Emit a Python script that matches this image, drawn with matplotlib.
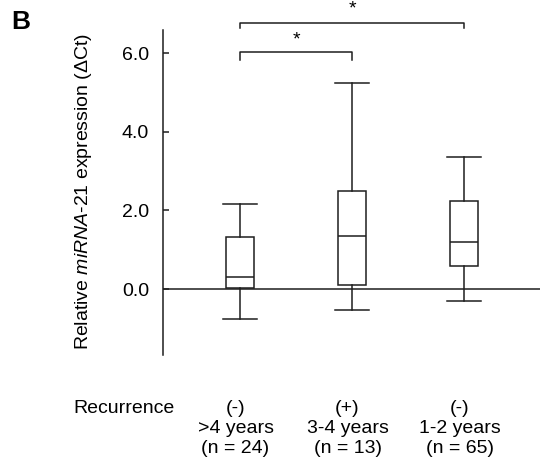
import numpy as np
import matplotlib
matplotlib.use("Agg")
from matplotlib import pyplot as plt
from matplotlib import transforms

plt.rcParams['font.family'] = ['Liberation Sans', 'DejaVu Sans']
plt.rcParams['mathtext.fontset'] = 'custom'
plt.rcParams['mathtext.rm'] = 'Liberation Sans'
plt.rcParams['mathtext.it'] = 'Liberation Sans:italic'

# valores (boxplot: whisker baixo, Q1, mediana, Q3, whisker alto)
grupos = ["(-)", "(+)", "(-)"]
anos = [">4 years", "3-4 years", "1-2 years"]
ns = ["(n = 24)", "(n = 13)", "(n = 65)"]
whislo = [-0.77, -0.54, -0.31]
q1 = [0.03, 0.10, 0.59]
med = [0.31, 1.36, 1.19]
q3 = [1.31, 2.50, 2.23]
whishi = [2.15, 5.23, 3.35]
yticks = [0.0, 2.0, 4.0, 6.0]

pos = np.array([1, 2, 3])
cor = '#1e1e1e'
lw = 1.1
fs = 14

fig = plt.figure(figsize=(5.4, 4.7), dpi=100)
ax = fig.add_axes([163/540, 1-355/470, (540-163)/540, 325/470])

stats = []
for i in range(len(pos)):
    stats.append(dict(whislo=whislo[i], q1=q1[i], med=med[i], q3=q3[i], whishi=whishi[i], fliers=[]))

ax.axhline(0, color=cor, lw=lw, zorder=1)
ax.bxp(stats, positions=pos, widths=0.25, capwidths=0.3, showfliers=False,
       patch_artist=True,
       boxprops=dict(facecolor='white', edgecolor=cor, lw=lw),
       medianprops=dict(color=cor, lw=lw),
       whiskerprops=dict(color=cor, lw=lw),
       capprops=dict(color=cor, lw=lw), zorder=2)

ax.set_xlim(1-77/112, 3+76/112)
ax.set_ylim(-66/39.33, 259/39.33)
ax.set_yticks(yticks)
ax.set_yticklabels(["%.1f" % t for t in yticks])
ax.set_xticks([])
for s in ['top', 'right', 'bottom']:
    ax.spines[s].set_visible(False)
ax.spines['left'].set_color(cor)
ax.spines['left'].set_linewidth(lw)
ax.tick_params(axis='y', direction='in', length=4, width=lw, color=cor, pad=10, labelsize=fs)

# colchetes de significancia
def colchete(x1, x2, y, h, ys):
    ax.plot([x1, x1, x2, x2], [y-h, y, y, y-h], color=cor, lw=lw, clip_on=False)
    ax.text((x1+x2)/2, ys, "*", ha='center', va='center', fontsize=14, clip_on=False)

colchete(pos[0], pos[1], 6.03, 0.21, 6.33)
colchete(pos[0], pos[2], 6.77, 0.14, 7.12)

fig.text(84/540, 1-191/470, "Relative $\\mathit{miRNA}$-$\\mathit{21}$ expression (\u0394Ct)",
         rotation=90, ha='center', va='center', fontsize=fs)
fig.text(21/540, 1-22/470, "B", ha='center', va='center', fontsize=19, fontweight='bold')

# texto embaixo
tr = transforms.blended_transform_factory(ax.transData, fig.transFigure)
fig.text(73/540, 1-413/470, "Recurrence", ha='left', va='baseline', fontsize=fs)
for i in range(len(pos)):
    xt = pos[i] - 0.04
    ax.text(xt, 1-413/470, grupos[i], transform=tr, ha='center', va='baseline', fontsize=fs)
    ax.text(xt, 1-433/470, anos[i], transform=tr, ha='center', va='baseline', fontsize=fs)
    ax.text(xt, 1-453/470, ns[i], transform=tr, ha='center', va='baseline', fontsize=fs)

plt.savefig("out.png", dpi=100)
